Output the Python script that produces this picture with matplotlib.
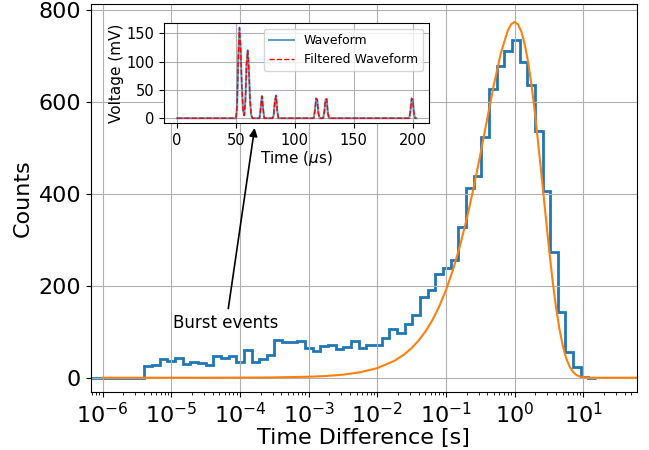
import matplotlib
matplotlib.use("Agg")
import matplotlib.pyplot as plt
import numpy as np

# histogram of time differences (log bins)
bin_log_start = -5.392
bin_log_width = 0.1115
counts = [25, 28, 40, 37, 42, 29, 34, 33, 28, 48, 44, 48, 35, 60, 35, 41, 49, 82, 77, 78,
          80, 65, 58, 70, 71, 63, 66, 81, 65, 71, 72, 86, 106, 97, 117, 137, 176, 190, 227, 238,
          257, 329, 413, 439, 525, 628, 680, 712, 736, 688, 637, 537, 407, 273, 144, 57, 24, 2, 0]

# fitted curve
fit_logt = [-6, -5, -4.5, -4, -3.5, -3, -2.75, -2.5, -2.25, -2, -1.75, -1.6, -1.5, -1.4, -1.3,
            -1.2, -1.1, -1.0, -0.9, -0.8, -0.7, -0.6, -0.5, -0.4, -0.3, -0.2, -0.1, -0.05, 0,
            0.05, 0.1, 0.15, 0.2, 0.25, 0.3, 0.4, 0.5, 0.55, 0.6, 0.65, 0.7, 0.75, 0.8, 0.85,
            0.9, 0.95, 1.0, 1.1, 1.2, 1.4, 1.8]
fit_counts = [0, 0.02, 0.07, 0.2, 0.7, 2.1, 3.7, 6.6, 11.8, 20.9, 36.8, 51.6, 64.6, 80.6, 100.4,
              124.8, 154.6, 190.6, 233.9, 285.0, 344.3, 411.6, 485.6, 563.3, 639.6, 707.3, 756.2, 770.1, 775,
              769.6, 753.1, 724.7, 684.4, 632.8, 571.5, 429.2, 282.0, 215.1, 156.6, 108.1, 70.3, 42.8, 24.2, 12.6,
              5.9, 2.5, 1.0, 0.1, 0, 0, 0]

# inset waveform
wave_t = [0, 50, 51, 52, 53, 54, 55, 56, 57, 58, 59, 60, 61, 62, 63, 64, 70, 71, 72, 73, 74,
          81, 82, 83, 84, 85, 86, 116, 117, 118, 119, 120, 121, 124, 125, 126, 127, 128, 129,
          197, 198, 199, 200, 201, 202, 203]
wave_v = [0, 0, 20, 110, 160, 120, 55, 15, 5, 30, 95, 120, 85, 30, 5, 0, 0, 18, 39, 18, 0,
          0, 5, 30, 40, 14, 0, 0, 14, 35, 32, 8, 0, 0, 12, 33, 34, 8, 0,
          0, 13, 35, 32, 8, 0, 0]
filtered_v = wave_v

edges = 10 ** (bin_log_start + bin_log_width * np.arange(len(counts) + 1))
edges = np.concatenate([[10 ** -6.5], edges])
hist = np.concatenate([[0], counts])

fig = plt.figure(figsize=(6.49, 4.5), dpi=100)
ax = fig.add_axes([0.140, 0.129, 0.841, 0.862])

ax.stairs(hist, edges, color='#1f77b4', lw=2)
ax.plot(10 ** np.array(fit_logt), fit_counts, color='#ff7f0e', lw=1.5)
ax.set_xscale('log')
ax.set_xlim(10 ** -6.17, 10 ** 1.777)
ax.set_ylim(-31, 814)
ax.set_xticks([1e-6, 1e-5, 1e-4, 1e-3, 1e-2, 1e-1, 1e0, 1e1])
ax.set_yticks([0, 200, 400, 600, 800])
ax.tick_params(labelsize=16)
ax.set_xlabel('Time Difference [s]', fontsize=16, labelpad=1)
ax.set_ylabel('Counts', fontsize=16)
ax.grid(True)

ax.annotate('Burst events', xy=(10 ** -3.78, 550), xytext=(10 ** -4.2, 119),
            ha='center', va='center', fontsize=12,
            arrowprops=dict(arrowstyle='-|>', color='black', lw=1.2))

ins = fig.add_axes([0.2527, 0.726, 0.4088, 0.2236])
ins.plot(wave_t, wave_v, color='#1f77b4', alpha=0.7, lw=1.5, label='Waveform')
ins.plot(wave_t, filtered_v, 'r--', lw=1, label='Filtered Waveform')
ins.set_xlim(-11, 214)
ins.set_ylim(-9, 169)
ins.set_xticks([0, 50, 100, 150, 200])
ins.set_yticks([0, 50, 100, 150])
ins.tick_params(labelsize=10.5)
ins.set_xlabel(r'Time ($\mu$s)', fontsize=11, labelpad=1)
ins.set_ylabel('Voltage (mV)', fontsize=11, labelpad=2)
ins.grid(True)
ins.legend(loc='upper right', fontsize=9)

fig.savefig('out.png', dpi=100)
